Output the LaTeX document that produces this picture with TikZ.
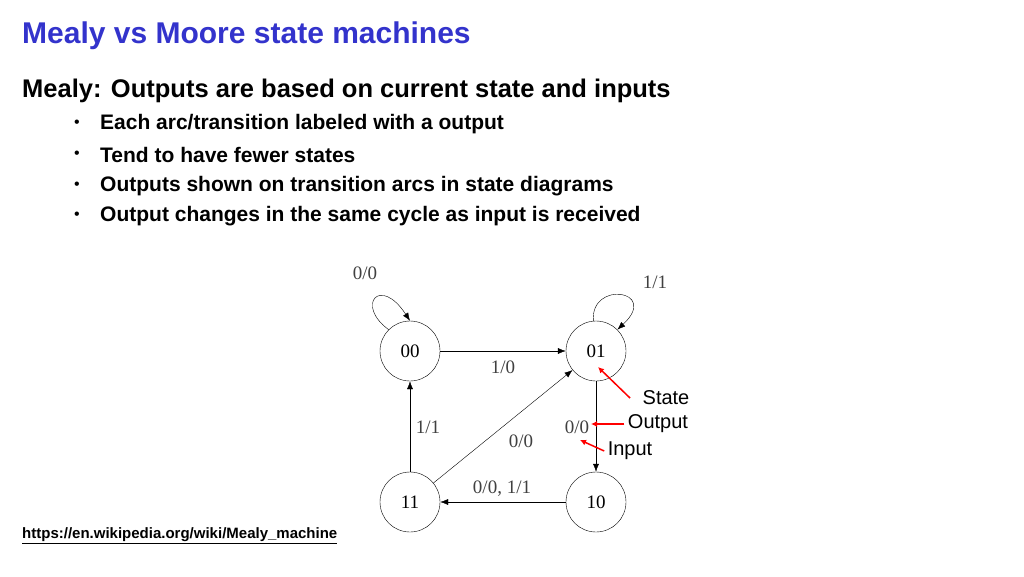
\documentclass[tikz,border=0pt]{standalone}
\usepackage{fontspec}
\setmainfont{Liberation Serif}
\setsansfont{Liberation Sans}
\usetikzlibrary{arrows.meta}
\definecolor{titleblue}{RGB}{51,51,204}
\begin{document}
\begin{tikzpicture}[
		x=1pt,y=-1pt,
		state/.style = {circle, draw, minimum size=60pt, inner sep=0pt, font=\fontsize{19}{19}\selectfont},
		trans/.style = {-{Latex[length=8pt,width=6pt]}},
		lbl/.style = {font=\fontsize{19}{19}\selectfont, text=black!75},
		note/.style = {font=\sffamily\fontsize{20}{20}\selectfont},
		redmark/.style = {red, line width=1.5pt, -{Latex[length=6pt,width=6pt]}},
		bullet/.style = {anchor=west, font=\sffamily\bfseries\fontsize{21}{21}\selectfont}
	]
	\useasboundingbox (0,0) rectangle (1024,576);
	\node (title) [anchor=west, inner sep=0pt, text=titleblue, font=\sffamily\bfseries\fontsize{30}{30}\selectfont] at (22,36) {Mealy vs Moore state machines};
	\node (head) [anchor=west, inner sep=0pt, font=\sffamily\bfseries\fontsize{25.5}{25.5}\selectfont] at (22,91) {Mealy: Outputs are based on current state and inputs};
	\foreach \y/\t [count=\i] in {124/{Each arc/transition labeled with a output},
		155/{Tend to have fewer states},
		186/{Outputs shown on transition arcs in state diagrams},
		216/{Output changes in the same cycle as input is received}} {
		\node (dot\i) [font=\sffamily\fontsize{16}{16}\selectfont] at (77,\y) {\textbullet};
		\node (item\i) [bullet, inner sep=0pt] at (100,\y) {\t};
	}
	\node (url) [anchor=west, inner sep=0pt, font=\sffamily\bfseries\fontsize{15}{15}\selectfont] at (22,536) {\underline{https://en.wikipedia.org/wiki/Mealy\_machine}};

	\node (s00) [state] at (410,351) {00};
	\node (s01) [state] at (596,351) {01};
	\node (s11) [state] at (410,502) {11};
	\node (s10) [state] at (596,502) {10};

	\path [trans] (s00) edge (s01);
	\path [trans] (s01) edge (s10);
	\path [trans] (s10) edge (s11);
	\path [trans] (s11) edge (s00);
	\path [trans] (s11) edge (s01);
	\draw [trans] (s00.135) .. controls (355,305) and (380,275) .. (s00.90);
	\draw [trans] (s01.95) .. controls (590,280) and (660,290) .. (s01.45);

	\node (l00) [lbl] at (365,273) {0/0};
	\node (l01) [lbl] at (655,282) {1/1};
	\node (l0001) [lbl] at (503,367) {1/0};
	\node (l1100) [lbl] at (428,427) {1/1};
	\node (l1101) [lbl] at (521,441) {0/0};
	\node (l0110) [lbl] at (577,427) {0/0};
	\node (l1011) [lbl] at (502,489) {0/0, 1/1};

	\node (tState) [note] at (666,398) {State};
	\node (tOut) [note] at (658,424) {Output};
	\node (tIn) [note] at (630,451) {Input};
	\coordinate (pState) at (598,367);
	\coordinate (pOut) at (591,424);
	\coordinate (pIn) at (580,440);
	\draw [redmark] (630,398) -- (pState);
	\draw [redmark] (tOut.west) -- (pOut);
	\draw [redmark] (tIn.west) -- (pIn);
\end{tikzpicture}
\end{document}
